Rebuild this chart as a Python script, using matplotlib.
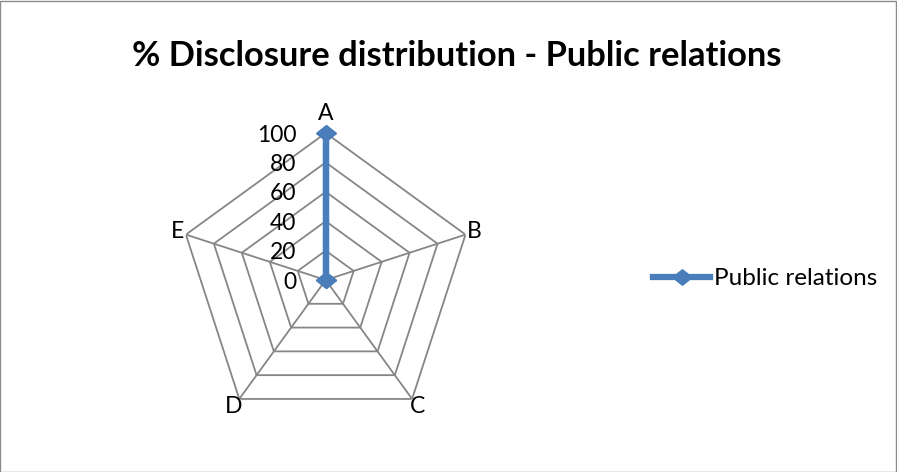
import numpy as np
import matplotlib
matplotlib.use("Agg")
import matplotlib.pyplot as plt
from matplotlib.patches import Rectangle
from matplotlib.path import Path
from matplotlib.transforms import offset_copy

plt.rcParams["font.family"] = ["Lato", "DejaVu Sans"]

categories = ["A", "B", "C", "D", "E"]
public_relations = [100, 0, 0, 0, 0]
ring_values = [0, 20, 40, 60, 80, 100]

LINE_BLUE = "#4A7EBB"
GRID_GRAY = "#868686"

# Excel-style diamond, a bit wider than tall
diamond = Path([(-1, 0), (0, 0.8), (1, 0), (0, -0.8), (-1, 0)],
               [Path.MOVETO, Path.LINETO, Path.LINETO, Path.LINETO, Path.CLOSEPOLY])

fig = plt.figure(figsize=(8.97, 4.72), dpi=100)
fig.patches.append(Rectangle((0.0005, 0.001), 0.998, 0.997, transform=fig.transFigure,
                             fill=False, edgecolor="#8C8C8C", linewidth=1.0))

ax = fig.add_axes([0.1992, 0.0953, 0.3278, 0.6229], projection="polar")
ax.set_theta_zero_location("N")
ax.set_theta_direction(-1)
ax.set_ylim(0, 100)
ax.grid(False)
ax.spines["polar"].set_visible(False)
ax.set_xticks([])
ax.set_yticks([])

angles = np.linspace(0, 2 * np.pi, len(categories), endpoint=False)
closed = np.append(angles, angles[0])

# polygon rings and spokes
for r in ring_values[1:]:
    ax.plot(closed, [r] * len(closed), color=GRID_GRAY, linewidth=1.3, zorder=1)
for a in angles:
    ax.plot([a, a], [0, 100], color=GRID_GRAY, linewidth=1.3, zorder=1)

# radial tick labels
label_tr = offset_copy(ax.transData, fig=fig, x=-21, y=-1.5, units="points")
for r in ring_values:
    ax.text(0, r, str(r), transform=label_tr, ha="right", va="center", fontsize=16.5, color="black")

# category labels
for a, cat in zip(angles, categories):
    rr = 113 if cat == "A" else 106
    ax.text(a, rr, cat, ha="center", va="center", fontsize=16.5, color="black")

vals = public_relations + public_relations[:1]
ax.plot(closed, vals, color=LINE_BLUE, linewidth=4.5, marker=diamond, markersize=14,
        markerfacecolor=LINE_BLUE, markeredgecolor=LINE_BLUE, zorder=3,
        label="Public relations", clip_on=False)

fig.legend(loc="center left", bbox_to_anchor=(0.728, 0.409), frameon=False, fontsize=17.5,
           handlelength=2.35, handletextpad=0.17, borderpad=0, borderaxespad=0)

fig.text(0.5095, 0.882, "% Disclosure distribution - Public relations", ha="center", va="center",
         fontsize=24.8, fontweight="bold")

fig.savefig("out.png", dpi=100)
